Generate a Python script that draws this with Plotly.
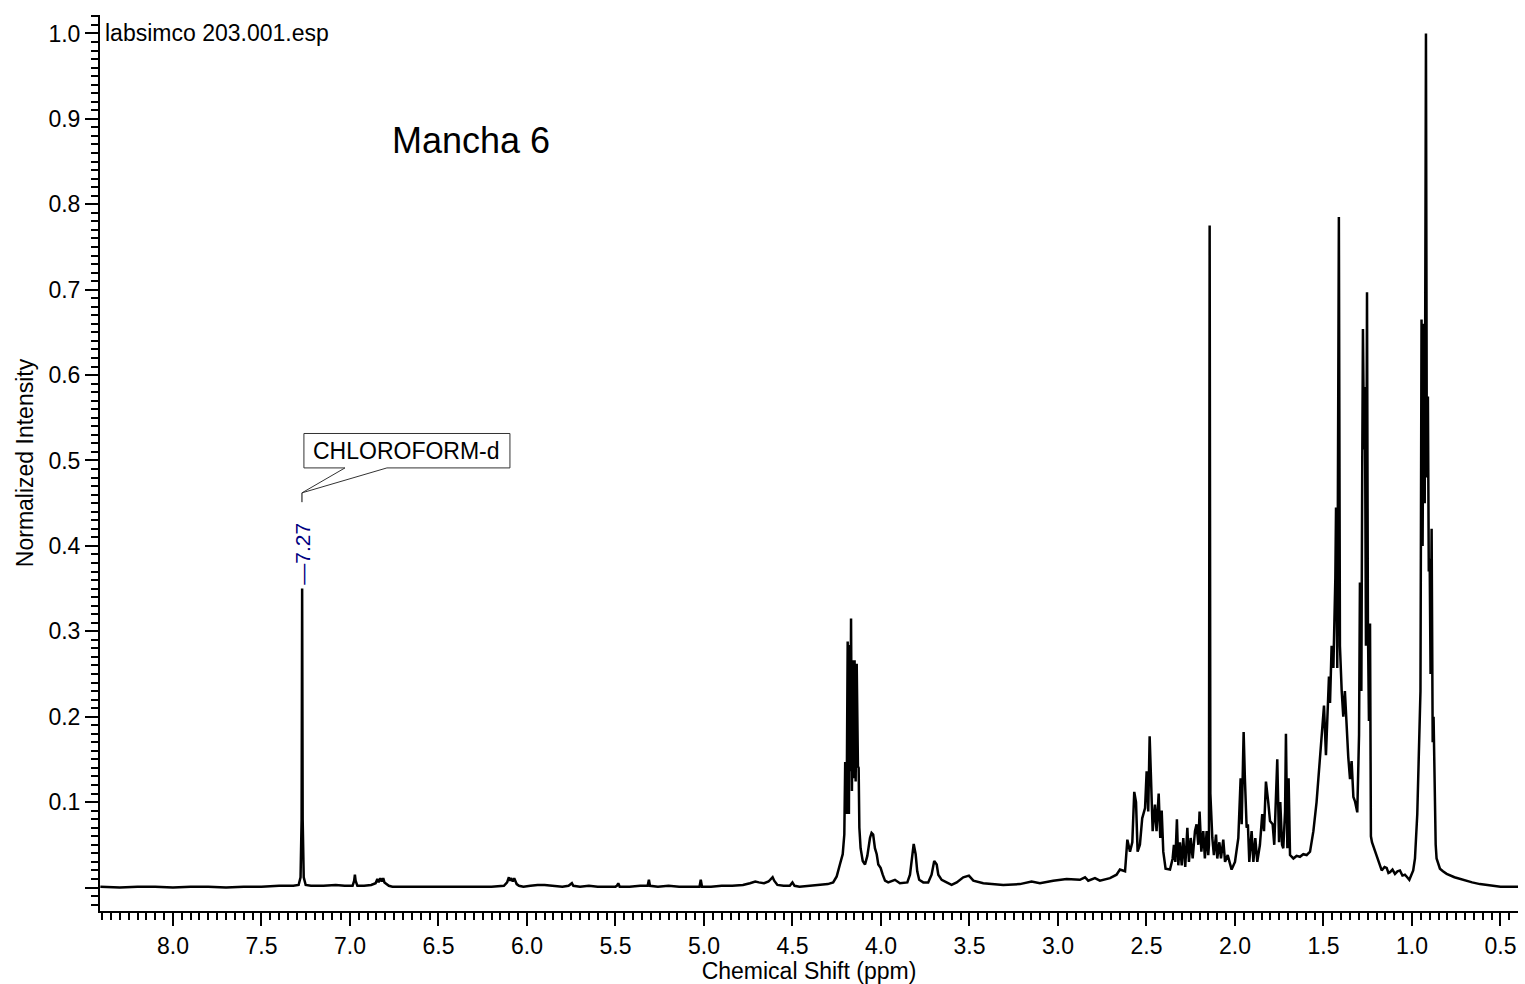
import plotly.graph_objects as go

# 1H NMR spectrum (CDCl3), normalized intensity vs chemical shift.
# The trace is stored as vertex lists, split into spectral regions (high ppm -> low ppm).

downfield_ppm = [8.41, 8.30, 8.20, 8.10, 8.00, 7.90, 7.80, 7.70, 7.60, 7.50,
                 7.40, 7.32, 7.29, 7.279, 7.273, 7.270, 7.267, 7.261, 7.25, 7.22,
                 7.15, 7.08, 7.03, 6.985, 6.976, 6.972, 6.968, 6.958, 6.92, 6.88,
                 6.855, 6.845, 6.838, 6.828, 6.820, 6.812, 6.805, 6.795, 6.78, 6.76,
                 6.70, 6.60, 6.50, 6.40, 6.30, 6.20, 6.13, 6.112, 6.102, 6.096,
                 6.090, 6.080, 6.072, 6.065, 6.058, 6.045, 6.02, 5.98, 5.94, 5.90,
                 5.85, 5.80, 5.765, 5.752, 5.746, 5.738, 5.70, 5.65, 5.60, 5.55]
downfield_int = [0.001, 0.000, 0.001, 0.001, 0.000, 0.001, 0.001, 0.000, 0.001, 0.001,
                 0.002, 0.002, 0.003, 0.012, 0.080, 0.350, 0.080, 0.012, 0.003, 0.002,
                 0.002, 0.003, 0.002, 0.002, 0.008, 0.015, 0.008, 0.002, 0.002, 0.003,
                 0.005, 0.010, 0.006, 0.011, 0.007, 0.011, 0.006, 0.004, 0.002, 0.001,
                 0.001, 0.001, 0.001, 0.001, 0.001, 0.001, 0.002, 0.006, 0.012, 0.008,
                 0.011, 0.007, 0.011, 0.006, 0.004, 0.002, 0.001, 0.002, 0.003, 0.003,
                 0.002, 0.001, 0.002, 0.004, 0.005, 0.002, 0.001, 0.002, 0.001, 0.001]

olefinic_ppm = [5.50, 5.492, 5.484, 5.476, 5.42, 5.36, 5.318, 5.311, 5.305, 5.26,
                5.20, 5.14, 5.08, 5.025, 5.018, 5.011, 4.96, 4.90, 4.84, 4.78,
                4.74, 4.71, 4.69, 4.66, 4.635, 4.620, 4.612, 4.603, 4.585, 4.55,
                4.515, 4.500, 4.488, 4.46, 4.40, 4.35, 4.30, 4.27]
olefinic_int = [0.001, 0.002, 0.005, 0.001, 0.001, 0.002, 0.002, 0.009, 0.002, 0.001,
                0.002, 0.001, 0.001, 0.001, 0.009, 0.001, 0.001, 0.002, 0.002, 0.003,
                0.005, 0.007, 0.006, 0.005, 0.007, 0.011, 0.012, 0.008, 0.003, 0.002,
                0.002, 0.006, 0.002, 0.001, 0.002, 0.003, 0.004, 0.006]

oxymethylene_ppm = [4.250, 4.232, 4.216, 4.207, 4.202, 4.194, 4.188, 4.181, 4.177, 4.173,
                    4.169, 4.164, 4.158, 4.154, 4.149, 4.143, 4.137, 4.130, 4.126, 4.122,
                    4.115, 4.103, 4.090, 4.077, 4.062, 4.053, 4.044, 4.034, 4.024, 4.015,
                    4.002, 3.990, 3.977, 3.959, 3.921, 3.893, 3.851, 3.836, 3.825, 3.815,
                    3.804, 3.795, 3.784, 3.761, 3.733, 3.714, 3.699, 3.685, 3.676, 3.657,
                    3.629, 3.601, 3.572, 3.535, 3.503, 3.478, 3.422, 3.309, 3.215, 3.149,
                    3.102, 3.027, 2.951, 2.876, 2.847, 2.829, 2.791, 2.763, 2.706, 2.669,
                    2.650]
oxymethylene_int = [0.013, 0.027, 0.039, 0.062, 0.147, 0.086, 0.288, 0.086, 0.284, 0.136,
                    0.315, 0.113, 0.266, 0.128, 0.266, 0.124, 0.262, 0.142, 0.140, 0.070,
                    0.046, 0.031, 0.027, 0.037, 0.058, 0.064, 0.062, 0.046, 0.039, 0.027,
                    0.023, 0.015, 0.008, 0.006, 0.009, 0.005, 0.006, 0.015, 0.031, 0.051,
                    0.039, 0.019, 0.009, 0.006, 0.006, 0.015, 0.031, 0.027, 0.015, 0.009,
                    0.006, 0.003, 0.006, 0.012, 0.014, 0.008, 0.005, 0.003, 0.004, 0.007,
                    0.005, 0.008, 0.010, 0.009, 0.012, 0.008, 0.011, 0.008, 0.011, 0.015,
                    0.021]

allylic_ppm = [2.621, 2.608, 2.593, 2.580, 2.569, 2.559, 2.550, 2.537, 2.524, 2.508,
               2.499, 2.490, 2.482, 2.475, 2.465, 2.452, 2.443, 2.431, 2.422, 2.414,
               2.405, 2.392, 2.367, 2.352, 2.345, 2.337, 2.328, 2.320, 2.311, 2.301,
               2.292, 2.281, 2.269, 2.260, 2.250, 2.239, 2.226, 2.217, 2.207, 2.200,
               2.190, 2.179, 2.170, 2.160, 2.151, 2.147, 2.143, 2.139, 2.135, 2.128,
               2.119, 2.107, 2.100, 2.088, 2.079, 2.066, 2.056, 2.041, 2.019, 2.000,
               1.981, 1.968, 1.962, 1.951, 1.944, 1.934, 1.927, 1.919, 1.906, 1.896,
               1.885, 1.874, 1.859, 1.846, 1.836, 1.825, 1.812, 1.802, 1.787, 1.778,
               1.770, 1.761, 1.751, 1.744, 1.734, 1.727, 1.717, 1.712, 1.704, 1.697,
               1.689, 1.670, 1.652, 1.633, 1.614, 1.595, 1.576, 1.557, 1.539, 1.520]
allylic_int = [0.019, 0.056, 0.042, 0.053, 0.112, 0.100, 0.042, 0.050, 0.081, 0.093,
               0.136, 0.089, 0.177, 0.132, 0.066, 0.097, 0.066, 0.110, 0.058, 0.090,
               0.042, 0.022, 0.021, 0.034, 0.050, 0.030, 0.080, 0.026, 0.053, 0.026,
               0.058, 0.024, 0.070, 0.030, 0.058, 0.034, 0.066, 0.074, 0.050, 0.089,
               0.042, 0.066, 0.034, 0.066, 0.038, 0.050, 0.775, 0.110, 0.085, 0.058,
               0.038, 0.062, 0.034, 0.053, 0.034, 0.056, 0.030, 0.038, 0.021, 0.030,
               0.058, 0.128, 0.074, 0.182, 0.128, 0.070, 0.074, 0.030, 0.066, 0.030,
               0.058, 0.030, 0.050, 0.086, 0.066, 0.124, 0.100, 0.078, 0.074, 0.050,
               0.097, 0.150, 0.053, 0.100, 0.050, 0.046, 0.089, 0.180, 0.046, 0.128,
               0.038, 0.034, 0.037, 0.036, 0.039, 0.038, 0.042, 0.066, 0.100, 0.151]

aliphatic_ppm = [1.510, 1.497, 1.486, 1.478, 1.469, 1.463, 1.454, 1.444, 1.433, 1.429,
                 1.422, 1.413, 1.407, 1.397, 1.388, 1.379, 1.369, 1.360, 1.350, 1.341,
                 1.331, 1.322, 1.309, 1.299, 1.294, 1.286, 1.281, 1.277, 1.271, 1.266,
                 1.260, 1.254, 1.249, 1.243, 1.237, 1.232, 1.226, 1.209, 1.190, 1.180,
                 1.171, 1.155, 1.143, 1.133, 1.124, 1.110, 1.096, 1.082, 1.068, 1.054,
                 1.040, 1.027, 1.015, 0.993, 0.983, 0.970, 0.960,
                 0.952, 0.946, 0.940, 0.934, 0.928, 0.921, 0.916, 0.910, 0.905, 0.900,
                 0.895, 0.889, 0.883, 0.878, 0.872, 0.866, 0.861, 0.850, 0.842, 0.825,
                 0.804, 0.760, 0.712, 0.660, 0.616, 0.55, 0.50, 0.40]
aliphatic_int = [0.185, 0.213, 0.155, 0.195, 0.247, 0.216, 0.283, 0.257, 0.362, 0.445,
                 0.257, 0.785, 0.283, 0.230, 0.200, 0.230, 0.179, 0.153, 0.127, 0.148,
                 0.106, 0.101, 0.088, 0.179, 0.357, 0.230, 0.492, 0.654, 0.513, 0.586,
                 0.283, 0.697, 0.309, 0.195, 0.309, 0.060, 0.053, 0.042, 0.031, 0.024,
                 0.020, 0.024, 0.023, 0.017, 0.018, 0.021, 0.016, 0.019, 0.020, 0.014,
                 0.015, 0.012, 0.009, 0.020, 0.034, 0.086, 0.163,
                 0.230, 0.665, 0.400, 0.660, 0.450, 1.000, 0.480, 0.575, 0.370, 0.385,
                 0.250, 0.420, 0.170, 0.200, 0.089, 0.050, 0.034, 0.026, 0.022, 0.019,
                 0.016, 0.012, 0.009, 0.006, 0.004, 0.002, 0.001, 0.001]

# Peak picking label and solvent assignment
peak_label_ppm = [7.27]
solvent_name = "CHLOROFORM-d"
file_name = "labsimco 203.001.esp"
sample_title = "Mancha 6"

shift_ppm = downfield_ppm + olefinic_ppm + oxymethylene_ppm + allylic_ppm + aliphatic_ppm
intensity = downfield_int + olefinic_int + oxymethylene_int + allylic_int + aliphatic_int
assert len(shift_ppm) == len(intensity)

X_RANGE = [8.412, 0.401]
Y_RANGE = [-0.0275, 1.0216]
FONT = "Liberation Sans, Arial, sans-serif"
TEXT_SIZE = 23

fig = go.Figure()
fig.add_trace(go.Scatter(
    x=shift_ppm, y=intensity, mode="lines",
    line=dict(color="black", width=2.5),
    hoverinfo="skip", showlegend=False,
))

tick_style = dict(ticks="outside", tickwidth=2, tickcolor="black",
                  showgrid=False, zeroline=False)

fig.update_layout(
    width=1525, height=984,
    margin=dict(l=100, r=7, t=15, b=71),
    paper_bgcolor="white", plot_bgcolor="white",
    showlegend=False,
    font=dict(family=FONT, size=TEXT_SIZE, color="black"),
    xaxis=dict(
        range=X_RANGE, tickmode="linear", tick0=0, dtick=0.5, tickformat=".1f",
        ticklen=13, showline=True, linewidth=2, linecolor="black",
        tickfont=dict(family=FONT, size=TEXT_SIZE, color="black"),
        minor=dict(tickmode="linear", tick0=0, dtick=0.05, ticks="outside",
                   ticklen=7, tickwidth=2, tickcolor="black", showgrid=False),
        title=dict(text="Chemical Shift (ppm)", standoff=2,
                   font=dict(family=FONT, size=TEXT_SIZE, color="black")),
        **tick_style,
    ),
    xaxis2=dict(
        overlaying="x", anchor="y", side="bottom", range=X_RANGE,
        tickmode="linear", tick0=0.25, dtick=0.5, ticklen=10,
        showticklabels=False, showline=False, **tick_style,
    ),
    yaxis=dict(
        range=Y_RANGE, tickmode="linear", tick0=0, dtick=0.1, tickformat=".1f",
        labelalias={"0.0": ""},
        ticklen=13, showline=True, linewidth=2, linecolor="black",
        tickfont=dict(family=FONT, size=TEXT_SIZE, color="black"),
        minor=dict(tickmode="linear", tick0=0, dtick=0.01, ticks="outside",
                   ticklen=7, tickwidth=2, tickcolor="black", showgrid=False),
        title=dict(text="Normalized Intensity", standoff=8,
                   font=dict(family=FONT, size=TEXT_SIZE, color="black")),
        **tick_style,
    ),
    yaxis2=dict(
        overlaying="y", anchor="x", side="left", range=Y_RANGE,
        tickmode="linear", tick0=0.05, dtick=0.1, ticklen=13,
        showticklabels=False, showline=False, **tick_style,
    ),
)

# File name and sample title
fig.add_annotation(text=file_name, xref="paper", yref="paper",
                   x=0.002, y=0.980, xanchor="left", yanchor="middle",
                   showarrow=False, font=dict(family=FONT, size=23, color="black"))
fig.add_annotation(text=sample_title, xref="paper", yref="paper",
                   x=0.2045, y=0.860, xanchor="left", yanchor="middle",
                   showarrow=False, font=dict(family=FONT, size=36, color="black"))

# Peak labels (rotated, navy) placed just above each labelled peak
for p in peak_label_ppm:
    idx = min(range(len(shift_ppm)), key=lambda i: abs(shift_ppm[i] - p))
    top = max(intensity[max(0, idx - 2): idx + 3])
    fig.add_annotation(text="\u2014" + f"{p:.2f}", x=p, y=top, xref="x", yref="y",
                       textangle=-90, xanchor="center", yanchor="bottom",
                       yshift=3, borderpad=0, showarrow=False,
                       font=dict(family=FONT, size=21, color="#000080"))

# Solvent callout box with pointer
box = dict(x0=7.260, x1=6.096, y0=0.4913, y1=0.5316)
pointer = dict(tip_x=7.271, tip_y=0.4621, base_l=7.028, base_r=6.791, stem_y=0.4512)
callout_path = (
    f"M {box['x0']},{box['y1']} L {box['x1']},{box['y1']} L {box['x1']},{box['y0']} "
    f"L {pointer['base_r']},{box['y0']} L {pointer['tip_x']},{pointer['tip_y']} "
    f"L {pointer['base_l']},{box['y0']} L {box['x0']},{box['y0']} Z"
)
fig.add_shape(type="path", path=callout_path, xref="x", yref="y",
              line=dict(color="#333333", width=1), fillcolor="white", layer="above")
fig.add_shape(type="line", xref="x", yref="y",
              x0=pointer["tip_x"], x1=pointer["tip_x"],
              y0=pointer["tip_y"], y1=pointer["stem_y"],
              line=dict(color="black", width=1))
fig.add_annotation(text=solvent_name, x=(box["x0"] + box["x1"]) / 2,
                   y=(box["y0"] + box["y1"]) / 2, xref="x", yref="y",
                   xanchor="center", yanchor="middle", showarrow=False,
                   font=dict(family=FONT, size=23, color="black"))

fig.write_html("out.html")
